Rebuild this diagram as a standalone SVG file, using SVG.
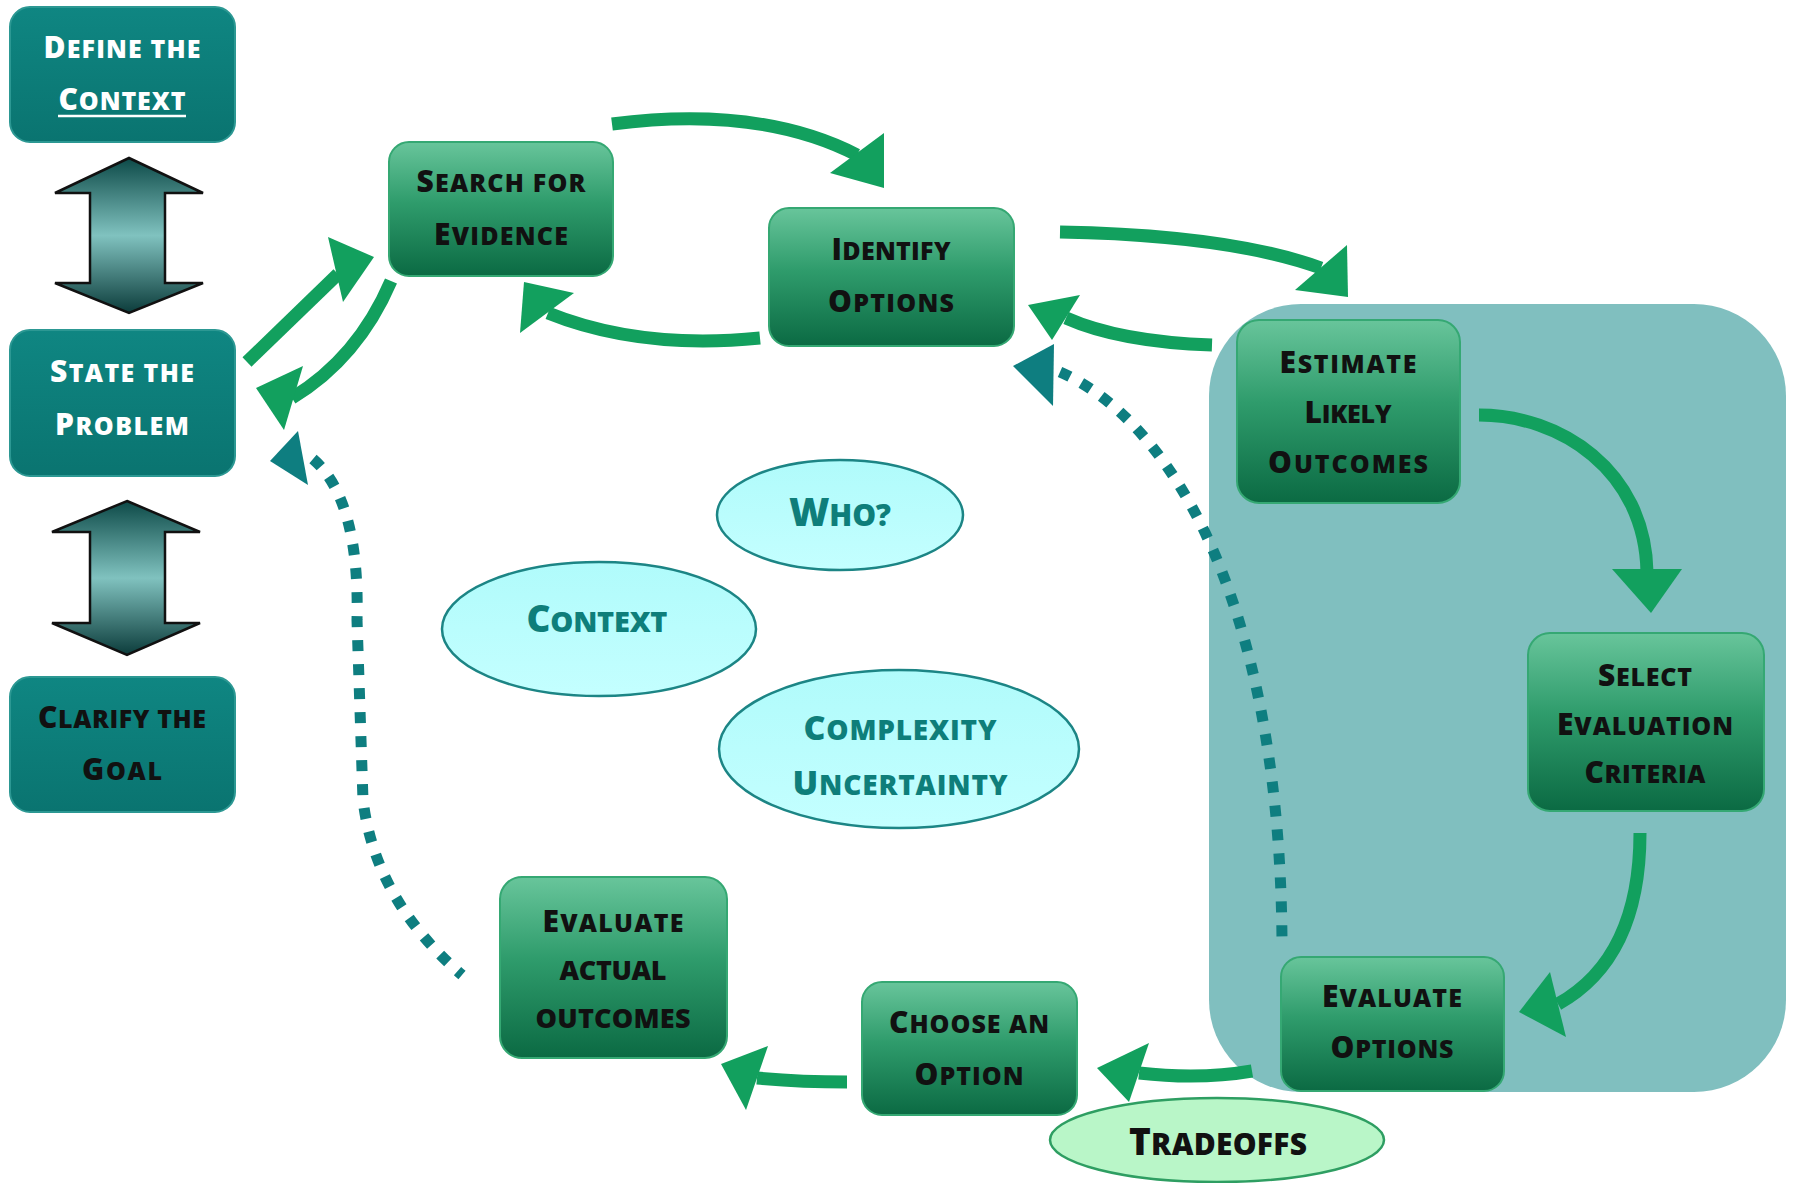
<svg xmlns="http://www.w3.org/2000/svg" width="1793" height="1183" viewBox="0 0 1793 1183">
<style>
.t{font-family:"Open Sans","Liberation Sans",sans-serif;font-weight:800;text-anchor:middle;font-size:30px}
.dk{fill:#111}
.wh{fill:#fff}
.tl{fill:#0e7e7a}
.s{font-size:25px}
.gbox{fill:url(#gGreen);stroke:#35a873;stroke-width:2}
.tbox{fill:url(#gTeal);stroke:#2c9893;stroke-width:2}
.ell{fill:url(#gCyan);stroke:#1c8585;stroke-width:2.5}
.conn{fill:none;stroke:#12a05e;stroke-width:13}
.head{fill:#12a05e}
.dot{fill:none;stroke:#0e7e80;stroke-width:11;stroke-dasharray:11 13}
.thead{fill:#0e7e80}
.dbl{fill:url(#gDbl);stroke:#111;stroke-width:2.5;stroke-linejoin:miter}
</style>
<defs>
<linearGradient id="gGreen" x1="0" y1="0" x2="0" y2="1">
<stop offset="0" stop-color="#68c59b"/><stop offset="0.45" stop-color="#2f9c6c"/><stop offset="1" stop-color="#0b6a43"/>
</linearGradient>
<linearGradient id="gTeal" x1="0" y1="0" x2="0" y2="1">
<stop offset="0" stop-color="#0f8682"/><stop offset="1" stop-color="#0a7470"/>
</linearGradient>
<linearGradient id="gDbl" x1="0" y1="0" x2="0" y2="1">
<stop offset="0" stop-color="#0d4a48"/><stop offset="0.5" stop-color="#80c2bf"/><stop offset="1" stop-color="#0c3c3b"/>
</linearGradient>
<linearGradient id="gCyan" x1="0" y1="0" x2="0" y2="1">
<stop offset="0" stop-color="#b0fbfb"/><stop offset="1" stop-color="#c4ffff"/>
</linearGradient>
</defs>
<rect width="1793" height="1183" fill="#fff"/>

<g id="panel"><rect x="1209" y="304" width="577" height="788" rx="92" ry="92" fill="#80bfbf"/></g>

<g id="define-context">
<rect class="tbox" x="10" y="7" width="225" height="135" rx="20"/>
<text class="t wh" x="122" y="58" textLength="157" lengthAdjust="spacing">D<tspan class="s">EFINE THE</tspan></text>
<text class="t wh" x="122" y="110" textLength="127" lengthAdjust="spacing">C<tspan class="s">ONTEXT</tspan></text>
<line x1="58" y1="116" x2="186" y2="116" stroke="#fff" stroke-width="2.5"/>
</g>
<g id="dbl-arrow-1"><polygon class="dbl" points="129,158 203,193 165,193 165,283 203,283 129,313 55,283 90,283 90,193 55,193"/></g>
<g id="state-problem">
<rect class="tbox" x="10" y="330" width="225" height="146" rx="20"/>
<text class="t wh" x="122" y="382" textLength="144" lengthAdjust="spacing">S<tspan class="s">TATE THE</tspan></text>
<text class="t wh" x="122" y="435" textLength="134" lengthAdjust="spacing">P<tspan class="s">ROBLEM</tspan></text>
</g>
<g id="dbl-arrow-2"><polygon class="dbl" points="127,501 200,532 165,532 165,623 200,623 127,655 52,623 90,623 90,532 52,532"/></g>
<g id="clarify-goal">
<rect class="tbox" x="10" y="677" width="225" height="135" rx="20"/>
<text class="t dk" x="122" y="728" textLength="168" lengthAdjust="spacing">C<tspan class="s">LARIFY THE</tspan></text>
<text class="t dk" x="122" y="780" textLength="80" lengthAdjust="spacing">G<tspan class="s">OAL</tspan></text>
</g>

<g id="search-evidence">
<rect class="gbox" x="389" y="142" width="224" height="134" rx="20"/>
<text class="t dk" x="501" y="192" textLength="169" lengthAdjust="spacing">S<tspan class="s">EARCH FOR</tspan></text>
<text class="t dk" x="501" y="245" textLength="134" lengthAdjust="spacing">E<tspan class="s">VIDENCE</tspan></text>
</g>
<g id="identify-options">
<rect class="gbox" x="769" y="208" width="245" height="138" rx="20"/>
<text class="t dk" x="891" y="260" textLength="119" lengthAdjust="spacing">I<tspan class="s">DENTIFY</tspan></text>
<text class="t dk" x="891" y="312" textLength="126" lengthAdjust="spacing">O<tspan class="s">PTIONS</tspan></text>
</g>
<g id="estimate-outcomes">
<rect class="gbox" x="1237" y="320" width="223" height="183" rx="22"/>
<text class="t dk" x="1348" y="373" textLength="137" lengthAdjust="spacing">E<tspan class="s">STIMATE</tspan></text>
<text class="t dk" x="1348" y="423" textLength="87" lengthAdjust="spacing">L<tspan class="s">IKELY</tspan></text>
<text class="t dk" x="1348" y="473" textLength="160" lengthAdjust="spacing">O<tspan class="s">UTCOMES</tspan></text>
</g>
<g id="select-criteria">
<rect class="gbox" x="1528" y="633" width="236" height="178" rx="22"/>
<text class="t dk" x="1645" y="686" textLength="94" lengthAdjust="spacing">S<tspan class="s">ELECT</tspan></text>
<text class="t dk" x="1645" y="735" textLength="176" lengthAdjust="spacing">E<tspan class="s">VALUATION</tspan></text>
<text class="t dk" x="1645" y="783" textLength="121" lengthAdjust="spacing">C<tspan class="s">RITERIA</tspan></text>
</g>
<g id="evaluate-options">
<rect class="gbox" x="1281" y="957" width="223" height="134" rx="20"/>
<text class="t dk" x="1392" y="1007" textLength="140" lengthAdjust="spacing">E<tspan class="s">VALUATE</tspan></text>
<text class="t dk" x="1392" y="1058" textLength="123" lengthAdjust="spacing">O<tspan class="s">PTIONS</tspan></text>
</g>
<g id="choose-option">
<rect class="gbox" x="862" y="982" width="215" height="133" rx="20"/>
<text class="t dk" x="969" y="1033" textLength="160" lengthAdjust="spacing">C<tspan class="s">HOOSE AN</tspan></text>
<text class="t dk" x="969" y="1085" textLength="109" lengthAdjust="spacing">O<tspan class="s">PTION</tspan></text>
</g>
<g id="evaluate-actual">
<rect class="gbox" x="500" y="877" width="227" height="181" rx="22"/>
<text class="t dk" x="613" y="932" textLength="141" lengthAdjust="spacing">E<tspan class="s">VALUATE</tspan></text>
<text class="t dk" x="613" y="980" textLength="107" lengthAdjust="spacing" style="font-size:27px">ACTUAL</text>
<text class="t dk" x="613" y="1028" textLength="155" lengthAdjust="spacing" style="font-size:27px">OUTCOMES</text>
</g>

<g id="who">
<ellipse class="ell" cx="840" cy="515" rx="123" ry="55"/>
<text class="t tl" x="840" y="526" textLength="102" lengthAdjust="spacing" style="font-size:39px">W<tspan style="font-size:30px">HO?</tspan></text>
</g>
<g id="context">
<ellipse class="ell" cx="599" cy="629" rx="157" ry="67"/>
<text class="t tl" x="597" y="632" textLength="141" lengthAdjust="spacing" style="font-size:37px">C<tspan style="font-size:29px">ONTEXT</tspan></text>
</g>
<g id="complexity">
<ellipse class="ell" cx="899" cy="749" rx="180" ry="79"/>
<text class="t tl" x="900" y="740" textLength="193" lengthAdjust="spacing" style="font-size:34px">C<tspan style="font-size:28px">OMPLEXITY</tspan></text>
<text class="t tl" x="900" y="795" textLength="215" lengthAdjust="spacing" style="font-size:34px">U<tspan style="font-size:28px">NCERTAINTY</tspan></text>
</g>

<g id="connectors">
<path class="conn" d="M247,362 L338,274"/>
<polygon class="head" points="328,237 374,257 343,302"/>
<path class="conn" d="M391,281 Q358,358 292,398"/>
<polygon class="head" points="256,388 303,366 284,430"/>
<path class="conn" d="M612,124 Q760,105 857,155"/>
<polygon class="head" points="830,173 884,133 884,188"/>
<path class="conn" d="M760,338 Q640,350 548,313"/>
<polygon class="head" points="524,282 574,293 520,333"/>
<path class="conn" d="M1060,232 Q1230,235 1321,268"/>
<polygon class="head" points="1347,245 1295,290 1348,297"/>
<path class="conn" d="M1212,345 Q1120,342 1066,318"/>
<polygon class="head" points="1028,305 1080,295 1052,340"/>
<path class="conn" d="M1479,415 C1560,415 1645,470 1647,572"/>
<polygon class="head" points="1612,569 1682,569 1651,613"/>
<path class="conn" d="M1640,833 C1640,920 1610,975 1558,1004"/>
<polygon class="head" points="1519,1012 1550,972 1566,1037"/>
<path class="conn" d="M1252,1071 Q1200,1080 1139,1073"/>
<polygon class="head" points="1149,1043 1097,1068 1129,1102"/>
<path class="conn" d="M847,1082 Q800,1082 757,1078"/>
<polygon class="head" points="768,1046 721,1064 746,1110"/>
<path class="dot" d="M1060,372 C1170,420 1280,600 1282,942"/>
<polygon class="thead" points="1013,366 1054,344 1053,406"/>
<path class="dot" d="M313,459 Q360,500 357,620 L363,800 Q375,900 462,975"/>
<polygon class="thead" points="270,461 298,431 308,485"/>
</g>

<g id="tradeoffs">
<ellipse cx="1217" cy="1140" rx="167" ry="42" fill="#b9f6c8" stroke="#2e9e62" stroke-width="2.5"/>
<text class="t dk" x="1218" y="1155" textLength="178" lengthAdjust="spacing" style="font-size:37px">T<tspan style="font-size:30px">RADEOFFS</tspan></text>
</g>
</svg>
